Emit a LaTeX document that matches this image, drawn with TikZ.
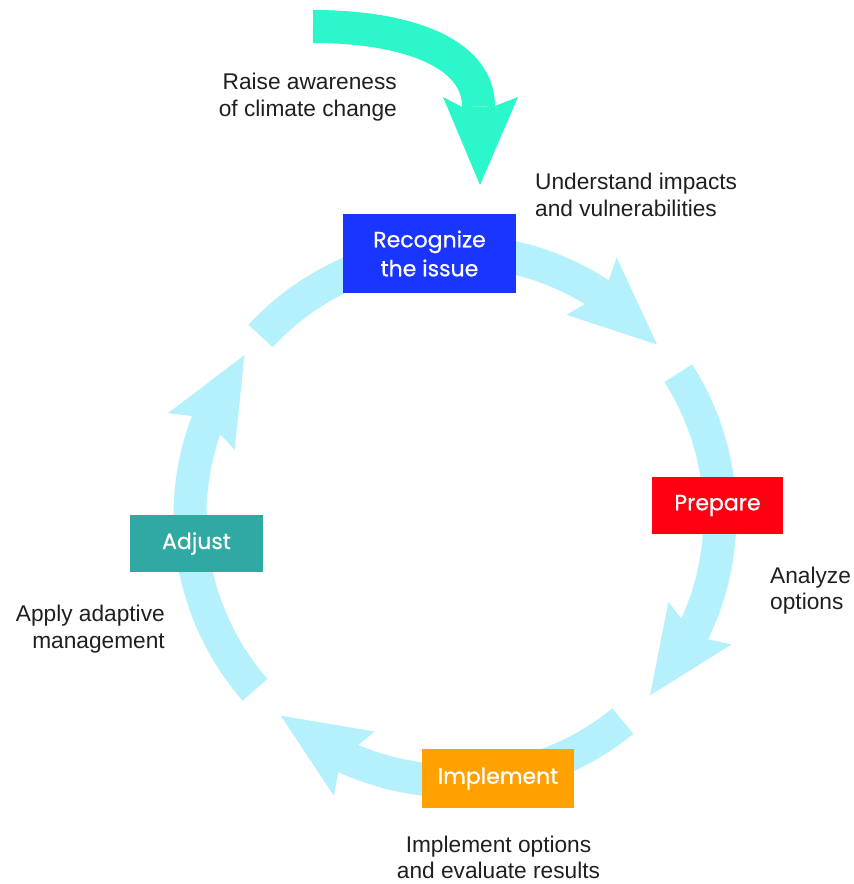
\documentclass[tikz,border=0pt]{standalone}
\usepackage{fontspec}
\setmainfont{Liberation Sans}
\newfontfamily\boxfont{Poppins}[BoldFont=Poppins,BoldFeatures={FakeBold=0.7}]

\definecolor{ringblue}{HTML}{B5F1FD}
\definecolor{awaregreen}{HTML}{2BF7CA}
\definecolor{recblue}{HTML}{1A35FF}
\definecolor{prepred}{HTML}{FF0012}
\definecolor{implorange}{HTML}{FFA100}
\definecolor{adjteal}{HTML}{2FA9A2}

\begin{document}
\begin{tikzpicture}[x=1pt,y=1pt,
  step node/.style={rectangle,inner sep=0pt,text=white,align=center,
    font=\boxfont\bfseries\fontsize{22}{29}\selectfont,minimum height=57pt},
  label node/.style={inner sep=0pt,text=black!88,
    font=\fontsize{22.7}{26.5}\selectfont},
  ring arrow/.style={fill=ringblue}]

  \useasboundingbox (-455,-368) rectangle (399,516);

  % the cycle, centre of the ring at the origin
  \foreach \t/\h in {137.2/40.3, 32.6/-42.6, -50.7/-131.1, 221/142.6}
    \fill[ring arrow] (\t:281.5) arc[start angle=\t, end angle=\h+16.6, radius=281.5]
      -- (\h+17.7:305) -- (\h:265) -- (\h+20.7:230) -- (\h+18.2:248.5)
      arc[start angle=\h+18.2, end angle=\t, radius=248.5] -- cycle;

  % entry arrow
  \coordinate (aware start) at (-142,489.5);
  \coordinate (aware neck) at (23.5,409.5);
  \coordinate (aware tip) at (25,331);
  \draw[awaregreen,line width=33pt] (aware start) .. controls (-50,489.5) and (23.5,464) .. (aware neck);
  \fill[awaregreen] (-12,419) -- (aware tip) -- (63,419) -- (40,410) -- (7,409) -- cycle;

  \node[step node,fill=recblue,minimum width=173pt,minimum height=79pt] (recognize) at (-25.5,262.5) {Recognize\\the issue};
  \node[step node,fill=prepred,minimum width=131pt] (prepare) at (262.5,10.5) {Prepare};
  \node[step node,fill=implorange,minimum width=152pt,minimum height=59pt] (implement) at (43,-262.5) {Implement};
  \node[step node,fill=adjteal,minimum width=133pt] (adjust) at (-258.5,-27.5) {Adjust};

  \node[label node,anchor=east,align=right] (raise) at (-58,419) {Raise awareness\\of climate change};
  \node[label node,anchor=west,align=left] (understand) at (80,321) {Understand impacts\\and vulnerabilities};
  \node[label node,anchor=west,align=left] (analyze) at (315,-74.5) {Analyze\\options};
  \node[label node,align=center] (evaluate) at (43.5,-341.5) {Implement options\\and evaluate results};
  \node[label node,anchor=east,align=right] (apply) at (-290,-113) {Apply adaptive\\management};

\end{tikzpicture}
\end{document}
